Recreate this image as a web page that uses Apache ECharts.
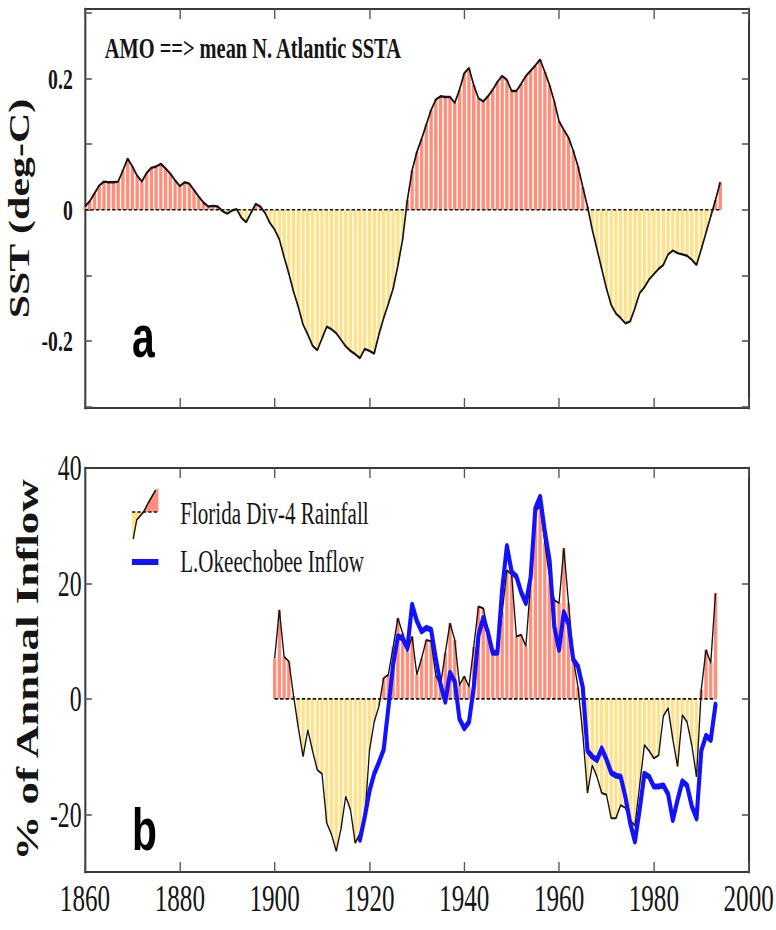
<!DOCTYPE html>
<html>
<head>
<meta charset="utf-8">
<title>AMO and Florida rainfall / Lake Okeechobee inflow</title>
<script src="https://cdn.jsdelivr.net/npm/echarts/dist/echarts.min.js"></script>
<style>
  html, body { margin: 0; padding: 0; background: #fff; overflow: hidden; }
  /* The figure is laid out on a wider stage and narrowed horizontally,
     which gives the tall, condensed lettering of the printed figure. */
  #chart { width: 1141px; height: 930px; transform: scaleX(0.68); transform-origin: 0 0; }
</style>
</head>
<body>
<div id="chart"></div>
<script>
// ---- Panel a: AMO, mean N. Atlantic SST anomaly (deg C), yearly from 1860
const amoStart = 1860;
const amo = [
  0.005, 0.013, 0.025, 0.037, 0.043, 0.042, 0.042, 0.043, 0.060, 0.078,
  0.066, 0.052, 0.043, 0.056, 0.064, 0.066, 0.070, 0.063, 0.055, 0.045,
  0.036, 0.042, 0.040, 0.030, 0.020, 0.011, 0.005, 0.006, 0.005, -0.002,
  -0.006, -0.001, 0.001, -0.012, -0.019, -0.005, 0.009, 0.005, -0.005, -0.020,
  -0.030, -0.045, -0.072, -0.097, -0.125, -0.148, -0.175, -0.190, -0.207, -0.214,
  -0.196, -0.178, -0.182, -0.188, -0.198, -0.208, -0.215, -0.220, -0.226, -0.212,
  -0.215, -0.219, -0.190, -0.165, -0.143, -0.120, -0.085, -0.045, 0.015, 0.060,
  0.088, 0.108, 0.130, 0.152, 0.168, 0.173, 0.172, 0.172, 0.163, 0.183,
  0.208, 0.216, 0.190, 0.170, 0.165, 0.173, 0.183, 0.195, 0.204, 0.198,
  0.181, 0.181, 0.192, 0.204, 0.212, 0.220, 0.229, 0.210, 0.190, 0.165,
  0.135, 0.122, 0.110, 0.090, 0.066, 0.035, 0.005, -0.030, -0.060, -0.090,
  -0.120, -0.145, -0.158, -0.165, -0.173, -0.170, -0.150, -0.127, -0.118, -0.106,
  -0.098, -0.090, -0.084, -0.068, -0.062, -0.066, -0.068, -0.070, -0.076, -0.084,
  -0.060, -0.035, -0.010, 0.015, 0.042
];

// ---- Panel b: Florida Div-4 rainfall, % of annual (from 1900)
const rainStart = 1900;
const rain = [
  7.0, 15.4, 7.3, 6.5, 0.5, -5.0, -10.0, -5.4, -9.0, -12.3,
  -13.0, -21.5, -23.5, -26.4, -22.5, -16.9, -19.2, -25.0, -23.3, -21.0,
  -9.0, -4.0, -1.3, 3.6, 4.2, 9.0, 14.0, 11.4, 8.2, 10.8,
  4.2, 7.0, 10.2, 10.0, 4.0, 2.4, 8.0, 13.1, 10.2, 2.4,
  3.9, 2.1, 9.0, 16.0, 15.7, 12.0, 8.5, 8.0, 15.0, 22.3,
  21.5, 10.8, 11.1, 9.1, 20.0, 32.4, 33.5, 27.0, 21.0, 17.1,
  16.6, 26.1, 16.6, 7.0, 2.0, -6.0, -16.3, -11.5, -13.5, -16.3,
  -16.6, -20.7, -20.7, -18.4, -18.9, -21.0, -22.0, -15.0, -8.0, -9.0,
  -10.3, -9.8, -3.0, -1.6, -7.0, -11.7, -2.8, -4.0, -8.0, -13.5,
  1.6, 8.5, 6.2, 18.3
];

// ---- Panel b: Lake Okeechobee inflow, % of annual (from 1918)
const inflowStart = 1918;
const inflow = [
  -24.4, -20.5,
  -16.0, -13.0, -11.0, -8.8, -1.5, 6.0, 10.8, 10.5, 8.8, 16.3,
  13.5, 11.7, 12.3, 12.0, 7.0, 2.5, -0.5, 4.5, 3.0, -3.5,
  -5.1, -4.0, 2.0, 11.0, 14.0, 11.5, 8.0, 8.0, 19.0, 26.5,
  22.0, 21.2, 18.5, 16.6, 21.0, 33.0, 35.0, 29.0, 24.0, 12.5,
  8.5, 15.0, 13.0, 6.8, 5.6, 2.0, -9.0, -10.0, -10.6, -8.6,
  -10.5, -12.8, -13.3, -13.5, -17.0, -21.5, -24.7, -19.2, -13.0, -13.5,
  -15.2, -15.2, -15.0, -16.5, -21.0, -17.5, -14.3, -15.0, -18.6, -20.7,
  -9.0, -6.4, -7.1, -1.0
];

// ---- Axis ticks and labels
const yearMin = 1860, yearMax = 2000, yearStep = 20;
const sstTicks = [-0.3, -0.2, -0.1, 0, 0.1, 0.2, 0.3];
const sstLabels = [-0.2, 0, 0.2];
const pctTicks = [-20, 0, 20];
const pctLabels = [-20, 0, 20, 40];

const toPairs = (start, vals) => vals.map((v, i) => [start + i, v]);
const zeroSpan = (start, vals) => [[start, 0], [start + vals.length - 1, 0]];

const amoPairs = toPairs(amoStart, amo);
const rainPairs = toPairs(rainStart, rain);
const inflowPairs = toPairs(inflowStart, inflow);

const WARM = '#FF8F7A';
const COOL = '#FFE189';
const INK = '#151515';
const FRAME = '#3a3a3a';
const SERIF = 'Liberation Serif, Times New Roman, serif';
const SANS = 'Liberation Sans, Arial, sans-serif';

const signColor = p => (p.value[1] >= 0 ? WARM : COOL);

function xAxisFor(gridIndex, position, labels) {
  return {
    type: 'value', gridIndex, position, min: yearMin, max: yearMax, interval: yearStep,
    axisLine: { show: true, onZero: false, lineStyle: { color: FRAME, width: 2 } },
    axisTick: { show: true, inside: true, length: 10, lineStyle: { color: '#555', width: 2 } },
    axisLabel: {
      show: labels, margin: 8, color: INK, fontFamily: SERIF, fontSize: 37,
      showMinLabel: true, showMaxLabel: true,
      formatter: v => String(v)
    },
    splitLine: { show: false }
  };
}

function yAxisFor(gridIndex, position, range, ticks, labels, labelStyle, name, nameStyle) {
  return {
    type: 'value', gridIndex, position, min: range[0], max: range[1],
    axisLine: { show: true, onZero: false, lineStyle: { color: FRAME, width: 3 } },
    axisTick: { show: true, inside: true, length: 10, customValues: ticks, lineStyle: { color: '#555', width: 1.6 } },
    axisLabel: labels ? Object.assign({ customValues: labels }, labelStyle) : { show: false },
    splitLine: { show: false },
    name: name || '',
    nameLocation: 'middle',
    nameGap: nameStyle ? nameStyle.gap : 0,
    nameTextStyle: nameStyle ? nameStyle.text : {}
  };
}

const option = {
  backgroundColor: '#fff',
  animation: false,
  grid: [
    { left: 125, top: 9, width: 976, height: 399 },
    { left: 125, top: 468, width: 976, height: 404 }
  ],
  xAxis: [
    xAxisFor(0, 'bottom', false),
    xAxisFor(0, 'top', false),
    xAxisFor(1, 'bottom', true),
    xAxisFor(1, 'top', false)
  ],
  yAxis: [
    yAxisFor(0, 'left', [-0.302, 0.306], sstTicks, sstLabels,
      { margin: 18, color: INK, fontFamily: SERIF, fontWeight: 'bold', fontSize: 29,
        formatter: v => (v === 0 ? '0' : v.toFixed(1)) },
      'SST (deg-C)',
      { gap: 60, text: { fontFamily: SERIF, fontWeight: 'bold', fontSize: 42, color: INK } }),
    yAxisFor(0, 'right', [-0.302, 0.306], sstTicks, null),
    yAxisFor(1, 'left', [-30, 40], pctTicks, pctLabels,
      { margin: 5, color: INK, fontFamily: SERIF, fontSize: 35 },
      '% of Annual Inflow',
      { gap: 58, text: { fontFamily: SERIF, fontWeight: 'bold', fontSize: 45, color: INK } }),
    yAxisFor(1, 'right', [-30, 40], pctTicks, null)
  ],
  series: [
    {
      name: 'AMO', type: 'bar', xAxisIndex: 0, yAxisIndex: 0, data: amoPairs,
      barWidth: 5, itemStyle: { color: signColor }, silent: true, z: 1
    },
    {
      type: 'line', xAxisIndex: 0, yAxisIndex: 0, data: zeroSpan(amoStart, amo),
      symbol: 'none', silent: true, z: 2,
      lineStyle: { color: INK, width: 1.6, type: [5, 3] }
    },
    {
      type: 'line', xAxisIndex: 0, yAxisIndex: 0, data: amoPairs,
      symbol: 'none', silent: true, z: 3,
      lineStyle: { color: INK, width: 2.4 }
    },
    {
      name: 'Florida Div-4 Rainfall', type: 'bar', xAxisIndex: 2, yAxisIndex: 2, data: rainPairs,
      barWidth: 5, itemStyle: { color: signColor }, silent: true, z: 1
    },
    {
      type: 'line', xAxisIndex: 2, yAxisIndex: 2, data: zeroSpan(rainStart, rain),
      symbol: 'none', silent: true, z: 2,
      lineStyle: { color: INK, width: 1.6, type: [5, 3] }
    },
    {
      type: 'line', xAxisIndex: 2, yAxisIndex: 2, data: rainPairs,
      symbol: 'none', silent: true, z: 3,
      lineStyle: { color: INK, width: 2 }
    },
    {
      name: 'L.Okeechobee Inflow', type: 'line', xAxisIndex: 2, yAxisIndex: 2, data: inflowPairs,
      symbol: 'none', silent: true, z: 4,
      lineStyle: { color: '#1212FF', width: 6, join: 'round', cap: 'round' }
    }
  ],
  graphic: [
    {
      type: 'text', x: 154, y: 48, silent: true,
      style: { text: 'AMO ==> mean N. Atlantic SSTA', fill: INK, fontFamily: SERIF,
               fontWeight: 'bold', fontSize: 30, align: 'left', verticalAlign: 'middle' }
    },
    {
      type: 'text', x: 194, y: 337, silent: true,
      style: { text: 'a', fill: '#000', fontFamily: SANS, fontWeight: 'bold', fontSize: 60,
               align: 'left', verticalAlign: 'middle' }
    },
    {
      type: 'text', x: 194, y: 830, silent: true,
      style: { text: 'b', fill: '#000', fontFamily: SANS, fontWeight: 'bold', fontSize: 60,
               align: 'left', verticalAlign: 'middle' }
    },
    // legend key: rainfall (cool fill below, warm fill above, trace and zero line)
    {
      type: 'polygon', silent: true,
      shape: { points: [[194, 512], [211, 512], [201, 520], [196, 539], [194, 539]] },
      style: { fill: COOL }
    },
    {
      type: 'polygon', silent: true,
      shape: { points: [[211, 512], [233, 512], [233, 488], [229, 490], [223, 497], [218, 503]] },
      style: { fill: WARM }
    },
    {
      type: 'line', silent: true,
      shape: { x1: 194, y1: 512, x2: 233, y2: 512 },
      style: { stroke: INK, lineWidth: 1.6, lineDash: [5, 3] }
    },
    {
      type: 'polyline', silent: true,
      shape: { points: [[196, 539], [201, 520], [211, 512], [218, 503], [223, 497], [229, 490]] },
      style: { stroke: INK, lineWidth: 2, fill: null }
    },
    {
      type: 'text', x: 265, y: 513, silent: true,
      style: { text: 'Florida Div-4 Rainfall', fill: INK, fontFamily: SERIF, fontSize: 31,
               align: 'left', verticalAlign: 'middle' }
    },
    // legend key: inflow
    {
      type: 'line', silent: true,
      shape: { x1: 194, y1: 562, x2: 233, y2: 562 },
      style: { stroke: '#1212FF', lineWidth: 6 }
    },
    {
      type: 'text', x: 265, y: 561, silent: true,
      style: { text: 'L.Okeechobee Inflow', fill: INK, fontFamily: SERIF, fontSize: 31,
               align: 'left', verticalAlign: 'middle' }
    }
  ]
};

const chart = echarts.init(document.getElementById('chart'), null, { renderer: 'svg' });
chart.setOption(option);
</script>
</body>
</html>
